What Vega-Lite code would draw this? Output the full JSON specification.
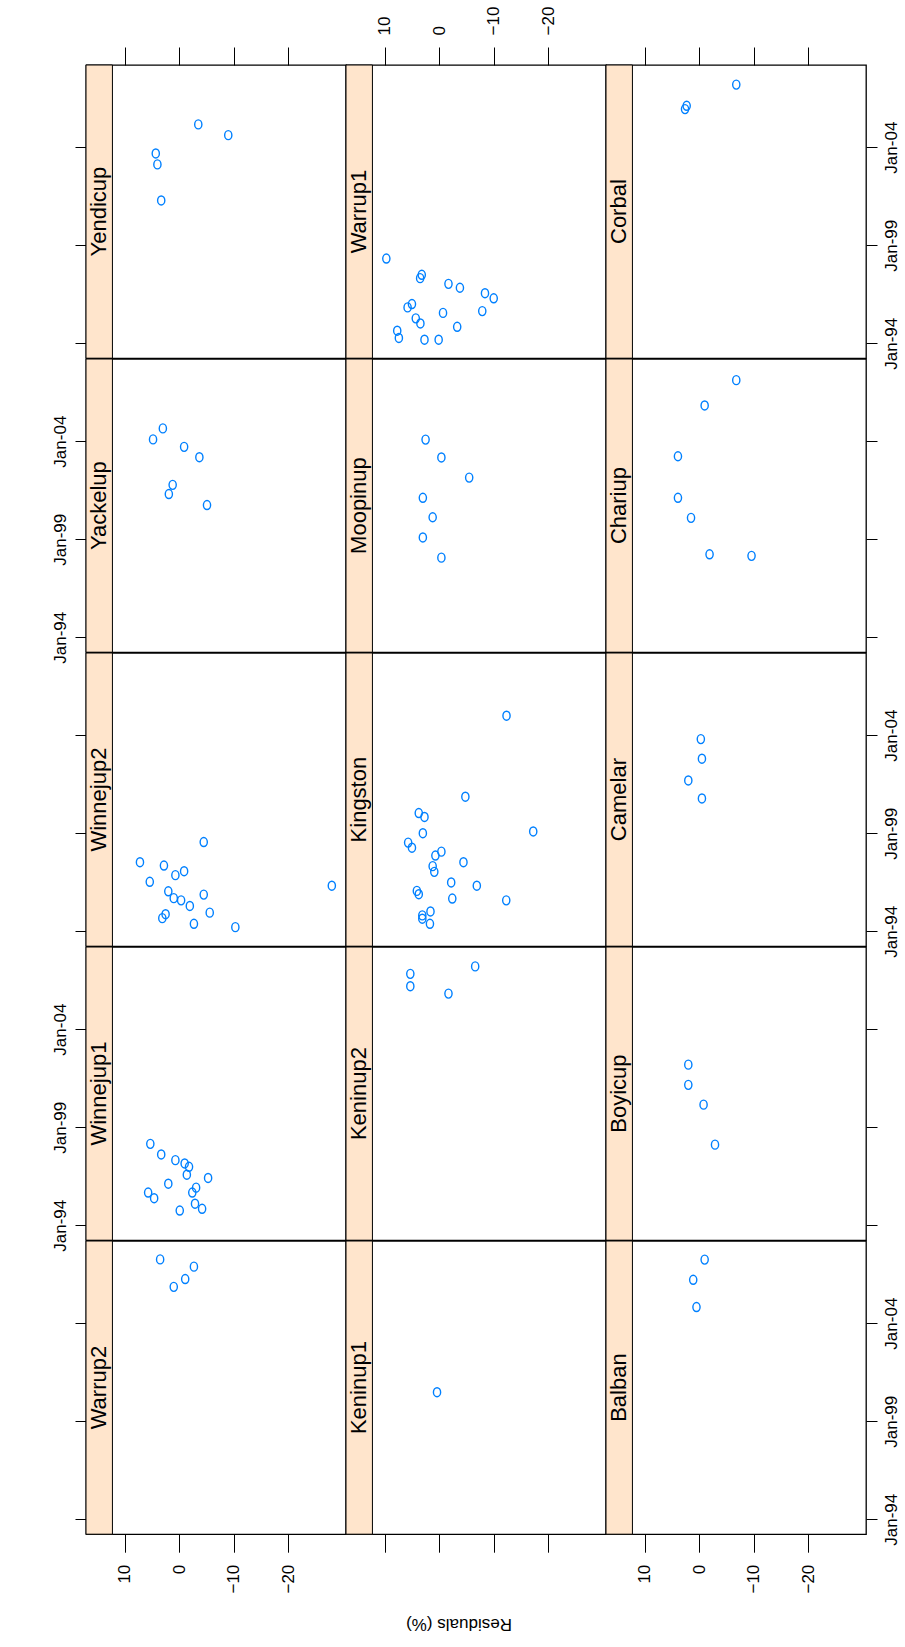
{
  "$schema": "https://vega.github.io/schema/vega-lite/v6.json",
  "background": "#ffffff",
  "padding": {"left": 50, "top": 5, "right": 3, "bottom": 5},
  "title": {"text": "Residuals (%)", "orient": "bottom", "angle": 180, "anchor": "middle", "font": "Liberation Sans", "fontSize": 17, "fontWeight": "normal", "color": "#000", "offset": 38, "dx": 16},
  "datasets": {
    "panels": [
      {"site": "Yendicup"}, {"site": "Warrup1"}, {"site": "Corbal"},
      {"site": "Yackelup"}, {"site": "Moopinup"}, {"site": "Chariup"},
      {"site": "Winnejup2"}, {"site": "Kingston"}, {"site": "Camelar"},
      {"site": "Winnejup1"}, {"site": "Keninup2"}, {"site": "Boyicup"},
      {"site": "Warrup2"}, {"site": "Keninup1"}, {"site": "Balban"}
    ],
    "points": [
      {"site": "Yendicup", "date": "2005-02-28", "resid": -3.5},
      {"site": "Yendicup", "date": "2004-08-12", "resid": -9.0},
      {"site": "Yendicup", "date": "2003-09-06", "resid": 4.3},
      {"site": "Yendicup", "date": "2003-02-14", "resid": 4.0},
      {"site": "Yendicup", "date": "2001-04-13", "resid": 3.3},
      {"site": "Yackelup", "date": "2004-08-26", "resid": 3.0},
      {"site": "Yackelup", "date": "2004-02-03", "resid": 4.8},
      {"site": "Yackelup", "date": "2003-09-17", "resid": -0.9},
      {"site": "Yackelup", "date": "2003-03-08", "resid": -3.7},
      {"site": "Yackelup", "date": "2001-10-09", "resid": 1.2},
      {"site": "Yackelup", "date": "2001-04-21", "resid": 1.9},
      {"site": "Yackelup", "date": "2000-09-28", "resid": -5.1},
      {"site": "Winnejup2", "date": "1998-07-21", "resid": -4.5},
      {"site": "Winnejup2", "date": "1997-07-10", "resid": 7.2},
      {"site": "Winnejup2", "date": "1997-05-09", "resid": 2.8},
      {"site": "Winnejup2", "date": "1997-01-23", "resid": -0.9},
      {"site": "Winnejup2", "date": "1996-11-11", "resid": 0.7},
      {"site": "Winnejup2", "date": "1996-07-10", "resid": 5.4},
      {"site": "Winnejup2", "date": "1996-04-28", "resid": -28.0},
      {"site": "Winnejup2", "date": "1996-01-16", "resid": 2.0},
      {"site": "Winnejup2", "date": "1995-11-15", "resid": -4.5},
      {"site": "Winnejup2", "date": "1995-09-10", "resid": 1.0},
      {"site": "Winnejup2", "date": "1995-07-31", "resid": -0.35},
      {"site": "Winnejup2", "date": "1995-04-17", "resid": -1.95},
      {"site": "Winnejup2", "date": "1994-12-14", "resid": -5.6},
      {"site": "Winnejup2", "date": "1994-11-15", "resid": 2.5},
      {"site": "Winnejup2", "date": "1994-09-02", "resid": 3.1},
      {"site": "Winnejup2", "date": "1994-05-20", "resid": -2.7},
      {"site": "Winnejup2", "date": "1994-03-19", "resid": -10.3},
      {"site": "Winnejup1", "date": "1998-02-25", "resid": 5.3},
      {"site": "Winnejup1", "date": "1997-08-12", "resid": 3.3},
      {"site": "Winnejup1", "date": "1997-04-28", "resid": 0.7},
      {"site": "Winnejup1", "date": "1997-02-25", "resid": -1.0},
      {"site": "Winnejup1", "date": "1996-12-25", "resid": -1.8},
      {"site": "Winnejup1", "date": "1996-07-31", "resid": -1.4},
      {"site": "Winnejup1", "date": "1996-05-31", "resid": -5.3},
      {"site": "Winnejup1", "date": "1996-02-14", "resid": 2.0},
      {"site": "Winnejup1", "date": "1995-12-03", "resid": -3.1},
      {"site": "Winnejup1", "date": "1995-09-02", "resid": 5.7},
      {"site": "Winnejup1", "date": "1995-09-02", "resid": -2.4},
      {"site": "Winnejup1", "date": "1995-05-20", "resid": 4.6},
      {"site": "Winnejup1", "date": "1995-02-07", "resid": -2.9},
      {"site": "Winnejup1", "date": "1994-11-04", "resid": -4.2},
      {"site": "Winnejup1", "date": "1994-10-02", "resid": -0.1},
      {"site": "Warrup2", "date": "2007-04-02", "resid": 3.5},
      {"site": "Warrup2", "date": "2006-11-18", "resid": -2.7},
      {"site": "Warrup2", "date": "2006-04-02", "resid": -1.1},
      {"site": "Warrup2", "date": "2005-11-07", "resid": 1.0},
      {"site": "Warrup1", "date": "1998-04-28", "resid": 9.7},
      {"site": "Warrup1", "date": "1997-06-29", "resid": 3.2},
      {"site": "Warrup1", "date": "1997-04-28", "resid": 3.5},
      {"site": "Warrup1", "date": "1997-01-12", "resid": -1.7},
      {"site": "Warrup1", "date": "1996-10-31", "resid": -3.8},
      {"site": "Warrup1", "date": "1996-07-21", "resid": -8.4},
      {"site": "Warrup1", "date": "1996-04-17", "resid": -10.0},
      {"site": "Warrup1", "date": "1996-01-01", "resid": 5.0},
      {"site": "Warrup1", "date": "1995-10-31", "resid": 5.8},
      {"site": "Warrup1", "date": "1995-08-23", "resid": -7.9},
      {"site": "Warrup1", "date": "1995-07-21", "resid": -0.7},
      {"site": "Warrup1", "date": "1995-04-10", "resid": 4.3},
      {"site": "Warrup1", "date": "1995-01-05", "resid": 3.45},
      {"site": "Warrup1", "date": "1994-11-04", "resid": -3.3},
      {"site": "Warrup1", "date": "1994-08-23", "resid": 7.7},
      {"site": "Warrup1", "date": "1994-04-10", "resid": 7.4},
      {"site": "Warrup1", "date": "1994-03-08", "resid": 2.7},
      {"site": "Warrup1", "date": "1994-03-08", "resid": 0.1},
      {"site": "Moopinup", "date": "2004-01-30", "resid": 2.5},
      {"site": "Moopinup", "date": "2003-03-04", "resid": -0.4},
      {"site": "Moopinup", "date": "2002-02-21", "resid": -5.5},
      {"site": "Moopinup", "date": "2001-02-10", "resid": 3.0},
      {"site": "Moopinup", "date": "2000-02-14", "resid": 1.2},
      {"site": "Moopinup", "date": "1999-02-03", "resid": 3.0},
      {"site": "Moopinup", "date": "1998-01-23", "resid": -0.4},
      {"site": "Kingston", "date": "2004-12-28", "resid": -12.35},
      {"site": "Kingston", "date": "2000-11-11", "resid": -4.8},
      {"site": "Kingston", "date": "2000-01-12", "resid": 3.75},
      {"site": "Kingston", "date": "1999-10-31", "resid": 2.7},
      {"site": "Kingston", "date": "1999-01-01", "resid": 3.0},
      {"site": "Kingston", "date": "1999-02-03", "resid": -17.25},
      {"site": "Kingston", "date": "1998-07-10", "resid": 5.7},
      {"site": "Kingston", "date": "1998-04-06", "resid": 5.0},
      {"site": "Kingston", "date": "1998-01-23", "resid": -0.4},
      {"site": "Kingston", "date": "1997-11-11", "resid": 0.7},
      {"site": "Kingston", "date": "1997-07-10", "resid": -4.45},
      {"site": "Kingston", "date": "1997-04-28", "resid": 1.2},
      {"site": "Kingston", "date": "1997-01-12", "resid": 0.9},
      {"site": "Kingston", "date": "1996-06-28", "resid": -2.2},
      {"site": "Kingston", "date": "1996-04-28", "resid": -6.9},
      {"site": "Kingston", "date": "1996-01-23", "resid": 4.1},
      {"site": "Kingston", "date": "1995-11-22", "resid": 3.75},
      {"site": "Kingston", "date": "1995-09-02", "resid": -2.4},
      {"site": "Kingston", "date": "1995-07-31", "resid": -12.3},
      {"site": "Kingston", "date": "1995-01-05", "resid": 1.6},
      {"site": "Kingston", "date": "1994-10-24", "resid": 3.1},
      {"site": "Kingston", "date": "1994-08-23", "resid": 3.1},
      {"site": "Kingston", "date": "1994-05-20", "resid": 1.7},
      {"site": "Keninup2", "date": "2007-03-15", "resid": -6.6},
      {"site": "Keninup2", "date": "2006-10-27", "resid": 5.3},
      {"site": "Keninup2", "date": "2006-03-11", "resid": 5.3},
      {"site": "Keninup2", "date": "2005-10-24", "resid": -1.7},
      {"site": "Keninup1", "date": "2000-06-24", "resid": 0.4},
      {"site": "Corbal", "date": "2007-03-11", "resid": -6.8},
      {"site": "Corbal", "date": "2006-02-10", "resid": 2.3},
      {"site": "Corbal", "date": "2005-12-10", "resid": 2.6},
      {"site": "Chariup", "date": "2007-02-10", "resid": -6.8},
      {"site": "Chariup", "date": "2005-10-27", "resid": -1.0},
      {"site": "Chariup", "date": "2003-03-26", "resid": 3.9},
      {"site": "Chariup", "date": "2001-02-10", "resid": 3.9},
      {"site": "Chariup", "date": "2000-02-03", "resid": 1.5},
      {"site": "Chariup", "date": "1998-03-26", "resid": -1.9},
      {"site": "Chariup", "date": "1998-02-25", "resid": -9.6},
      {"site": "Camelar", "date": "2003-10-20", "resid": -0.3},
      {"site": "Camelar", "date": "2002-10-20", "resid": -0.5},
      {"site": "Camelar", "date": "2001-09-10", "resid": 2.0},
      {"site": "Camelar", "date": "2000-10-09", "resid": -0.5},
      {"site": "Boyicup", "date": "2002-03-11", "resid": 2.0},
      {"site": "Boyicup", "date": "2001-02-28", "resid": 2.0},
      {"site": "Boyicup", "date": "2000-02-25", "resid": -0.8},
      {"site": "Boyicup", "date": "1998-02-10", "resid": -2.9},
      {"site": "Balban", "date": "2007-03-30", "resid": -1.0},
      {"site": "Balban", "date": "2006-03-19", "resid": 1.1},
      {"site": "Balban", "date": "2004-10-27", "resid": 0.5}
    ]
  },
  "columns": 3,
  "spacing": 0,
  "bounds": "flush",
  "concat": [
    {"width": 260, "height": 293.2, "layer": [
      {"data": {"name": "panels"}, "transform": [{"filter": "datum.site === 'Yendicup'"}], "mark": {"type": "rect", "fill": "#ffe5cc", "stroke": "#000", "strokeWidth": 1}, "encoding": {"x": {"datum": 17.1, "type": "quantitative", "scale": {"domain": [-30.6, 17.1], "reverse": true, "nice": false, "zero": false}}, "x2": {"datum": 12.25}}},
      {"data": {"name": "panels"}, "transform": [{"filter": "datum.site === 'Yendicup'"}], "mark": {"type": "text", "angle": 270, "font": "Liberation Sans", "fontSize": 22, "align": "center", "baseline": "middle", "color": "#000"}, "encoding": {"x": {"datum": 14.67, "type": "quantitative"}, "y": {"datum": {"year": 2000, "month": 9, "date": 18, "utc": true}, "type": "temporal", "scale": {"type": "utc", "domain": [{"year": 1993, "month": 3, "date": 29, "utc": true}, {"year": 2008, "month": 3, "date": 10, "utc": true}], "nice": false}}, "text": {"field": "site"}}},
      {"data": {"name": "points"}, "transform": [{"filter": "datum.site === 'Yendicup'"}], "mark": {"type": "point", "shape": "M-0.8,0A0.8,1,0,1,0,0.8,0A0.8,1,0,1,0,-0.8,0Z", "filled": false, "stroke": "#0080ff", "strokeWidth": 1.4, "size": 81, "opacity": 1}, "encoding": {
        "x": {"field": "resid", "type": "quantitative", "axis": {"orient": "top", "values": [10, 0, -10, -20], "labels": false, "labelAlign": "left", "labelBaseline": "middle"}},
        "y": {"field": "date", "type": "temporal", "axis": {"orient": "left", "values": [{"year": 1994, "month": 1, "date": 1, "utc": true}, {"year": 1999, "month": 1, "date": 1, "utc": true}, {"year": 2004, "month": 1, "date": 1, "utc": true}], "format": "%b-%y", "labels": false}}}}
    ]},
    {"width": 260, "height": 293.2, "layer": [
      {"data": {"name": "panels"}, "transform": [{"filter": "datum.site === 'Warrup1'"}], "mark": {"type": "rect", "fill": "#ffe5cc", "stroke": "#000", "strokeWidth": 1}, "encoding": {"x": {"datum": 17.1, "type": "quantitative", "scale": {"domain": [-30.6, 17.1], "reverse": true, "nice": false, "zero": false}}, "x2": {"datum": 12.25}}},
      {"data": {"name": "panels"}, "transform": [{"filter": "datum.site === 'Warrup1'"}], "mark": {"type": "text", "angle": 270, "font": "Liberation Sans", "fontSize": 22, "align": "center", "baseline": "middle", "color": "#000"}, "encoding": {"x": {"datum": 14.67, "type": "quantitative"}, "y": {"datum": {"year": 2000, "month": 9, "date": 18, "utc": true}, "type": "temporal", "scale": {"type": "utc", "domain": [{"year": 1993, "month": 3, "date": 29, "utc": true}, {"year": 2008, "month": 3, "date": 10, "utc": true}], "nice": false}, "axis": null}, "text": {"field": "site"}}},
      {"data": {"name": "points"}, "transform": [{"filter": "datum.site === 'Warrup1'"}], "mark": {"type": "point", "shape": "M-0.8,0A0.8,1,0,1,0,0.8,0A0.8,1,0,1,0,-0.8,0Z", "filled": false, "stroke": "#0080ff", "strokeWidth": 1.4, "size": 81, "opacity": 1}, "encoding": {
        "x": {"field": "resid", "type": "quantitative", "axis": {"orient": "top", "values": [10, 0, -10, -20], "labels": true, "labelAlign": "left", "labelBaseline": "middle"}},
        "y": {"field": "date", "type": "temporal", "axis": null}}}
    ]},
    {"width": 260, "height": 293.2, "layer": [
      {"data": {"name": "panels"}, "transform": [{"filter": "datum.site === 'Corbal'"}], "mark": {"type": "rect", "fill": "#ffe5cc", "stroke": "#000", "strokeWidth": 1}, "encoding": {"x": {"datum": 17.1, "type": "quantitative", "scale": {"domain": [-30.6, 17.1], "reverse": true, "nice": false, "zero": false}}, "x2": {"datum": 12.25}}},
      {"data": {"name": "panels"}, "transform": [{"filter": "datum.site === 'Corbal'"}], "mark": {"type": "text", "angle": 270, "font": "Liberation Sans", "fontSize": 22, "align": "center", "baseline": "middle", "color": "#000"}, "encoding": {"x": {"datum": 14.67, "type": "quantitative"}, "y": {"datum": {"year": 2000, "month": 9, "date": 18, "utc": true}, "type": "temporal", "scale": {"type": "utc", "domain": [{"year": 1993, "month": 3, "date": 29, "utc": true}, {"year": 2008, "month": 3, "date": 10, "utc": true}], "nice": false}}, "text": {"field": "site"}}},
      {"data": {"name": "points"}, "transform": [{"filter": "datum.site === 'Corbal'"}], "mark": {"type": "point", "shape": "M-0.8,0A0.8,1,0,1,0,0.8,0A0.8,1,0,1,0,-0.8,0Z", "filled": false, "stroke": "#0080ff", "strokeWidth": 1.4, "size": 81, "opacity": 1}, "encoding": {
        "x": {"field": "resid", "type": "quantitative", "axis": {"orient": "top", "values": [10, 0, -10, -20], "labels": false, "labelAlign": "left", "labelBaseline": "middle"}},
        "y": {"field": "date", "type": "temporal", "axis": {"orient": "right", "values": [{"year": 1994, "month": 1, "date": 1, "utc": true}, {"year": 1999, "month": 1, "date": 1, "utc": true}, {"year": 2004, "month": 1, "date": 1, "utc": true}], "format": "%b-%y", "labels": true, "labelAlign": "center", "labelBaseline": "top"}}}}
    ]},
    {"width": 260, "height": 293.2, "layer": [
      {"data": {"name": "panels"}, "transform": [{"filter": "datum.site === 'Yackelup'"}], "mark": {"type": "rect", "fill": "#ffe5cc", "stroke": "#000", "strokeWidth": 1}, "encoding": {"x": {"datum": 17.1, "type": "quantitative", "scale": {"domain": [-30.6, 17.1], "reverse": true, "nice": false, "zero": false}, "axis": null}, "x2": {"datum": 12.25}}},
      {"data": {"name": "panels"}, "transform": [{"filter": "datum.site === 'Yackelup'"}], "mark": {"type": "text", "angle": 270, "font": "Liberation Sans", "fontSize": 22, "align": "center", "baseline": "middle", "color": "#000"}, "encoding": {"x": {"datum": 14.67, "type": "quantitative", "axis": null}, "y": {"datum": {"year": 2000, "month": 9, "date": 18, "utc": true}, "type": "temporal", "scale": {"type": "utc", "domain": [{"year": 1993, "month": 3, "date": 29, "utc": true}, {"year": 2008, "month": 3, "date": 10, "utc": true}], "nice": false}}, "text": {"field": "site"}}},
      {"data": {"name": "points"}, "transform": [{"filter": "datum.site === 'Yackelup'"}], "mark": {"type": "point", "shape": "M-0.8,0A0.8,1,0,1,0,0.8,0A0.8,1,0,1,0,-0.8,0Z", "filled": false, "stroke": "#0080ff", "strokeWidth": 1.4, "size": 81, "opacity": 1}, "encoding": {
        "x": {"field": "resid", "type": "quantitative", "axis": null},
        "y": {"field": "date", "type": "temporal", "axis": {"orient": "left", "values": [{"year": 1994, "month": 1, "date": 1, "utc": true}, {"year": 1999, "month": 1, "date": 1, "utc": true}, {"year": 2004, "month": 1, "date": 1, "utc": true}], "format": "%b-%y", "labels": true}}}}
    ]},
    {"width": 260, "height": 293.2, "layer": [
      {"data": {"name": "panels"}, "transform": [{"filter": "datum.site === 'Moopinup'"}], "mark": {"type": "rect", "fill": "#ffe5cc", "stroke": "#000", "strokeWidth": 1}, "encoding": {"x": {"datum": 17.1, "type": "quantitative", "scale": {"domain": [-30.6, 17.1], "reverse": true, "nice": false, "zero": false}, "axis": null}, "x2": {"datum": 12.25}}},
      {"data": {"name": "panels"}, "transform": [{"filter": "datum.site === 'Moopinup'"}], "mark": {"type": "text", "angle": 270, "font": "Liberation Sans", "fontSize": 22, "align": "center", "baseline": "middle", "color": "#000"}, "encoding": {"x": {"datum": 14.67, "type": "quantitative", "axis": null}, "y": {"datum": {"year": 2000, "month": 9, "date": 18, "utc": true}, "type": "temporal", "scale": {"type": "utc", "domain": [{"year": 1993, "month": 3, "date": 29, "utc": true}, {"year": 2008, "month": 3, "date": 10, "utc": true}], "nice": false}, "axis": null}, "text": {"field": "site"}}},
      {"data": {"name": "points"}, "transform": [{"filter": "datum.site === 'Moopinup'"}], "mark": {"type": "point", "shape": "M-0.8,0A0.8,1,0,1,0,0.8,0A0.8,1,0,1,0,-0.8,0Z", "filled": false, "stroke": "#0080ff", "strokeWidth": 1.4, "size": 81, "opacity": 1}, "encoding": {
        "x": {"field": "resid", "type": "quantitative", "axis": null},
        "y": {"field": "date", "type": "temporal", "axis": null}}}
    ]},
    {"width": 260, "height": 293.2, "layer": [
      {"data": {"name": "panels"}, "transform": [{"filter": "datum.site === 'Chariup'"}], "mark": {"type": "rect", "fill": "#ffe5cc", "stroke": "#000", "strokeWidth": 1}, "encoding": {"x": {"datum": 17.1, "type": "quantitative", "scale": {"domain": [-30.6, 17.1], "reverse": true, "nice": false, "zero": false}, "axis": null}, "x2": {"datum": 12.25}}},
      {"data": {"name": "panels"}, "transform": [{"filter": "datum.site === 'Chariup'"}], "mark": {"type": "text", "angle": 270, "font": "Liberation Sans", "fontSize": 22, "align": "center", "baseline": "middle", "color": "#000"}, "encoding": {"x": {"datum": 14.67, "type": "quantitative", "axis": null}, "y": {"datum": {"year": 2000, "month": 9, "date": 18, "utc": true}, "type": "temporal", "scale": {"type": "utc", "domain": [{"year": 1993, "month": 3, "date": 29, "utc": true}, {"year": 2008, "month": 3, "date": 10, "utc": true}], "nice": false}}, "text": {"field": "site"}}},
      {"data": {"name": "points"}, "transform": [{"filter": "datum.site === 'Chariup'"}], "mark": {"type": "point", "shape": "M-0.8,0A0.8,1,0,1,0,0.8,0A0.8,1,0,1,0,-0.8,0Z", "filled": false, "stroke": "#0080ff", "strokeWidth": 1.4, "size": 81, "opacity": 1}, "encoding": {
        "x": {"field": "resid", "type": "quantitative", "axis": null},
        "y": {"field": "date", "type": "temporal", "axis": {"orient": "right", "values": [{"year": 1994, "month": 1, "date": 1, "utc": true}, {"year": 1999, "month": 1, "date": 1, "utc": true}, {"year": 2004, "month": 1, "date": 1, "utc": true}], "format": "%b-%y", "labels": false, "labelAlign": "center", "labelBaseline": "top"}}}}
    ]},
    {"width": 260, "height": 293.2, "layer": [
      {"data": {"name": "panels"}, "transform": [{"filter": "datum.site === 'Winnejup2'"}], "mark": {"type": "rect", "fill": "#ffe5cc", "stroke": "#000", "strokeWidth": 1}, "encoding": {"x": {"datum": 17.1, "type": "quantitative", "scale": {"domain": [-30.6, 17.1], "reverse": true, "nice": false, "zero": false}, "axis": null}, "x2": {"datum": 12.25}}},
      {"data": {"name": "panels"}, "transform": [{"filter": "datum.site === 'Winnejup2'"}], "mark": {"type": "text", "angle": 270, "font": "Liberation Sans", "fontSize": 22, "align": "center", "baseline": "middle", "color": "#000"}, "encoding": {"x": {"datum": 14.67, "type": "quantitative", "axis": null}, "y": {"datum": {"year": 2000, "month": 9, "date": 18, "utc": true}, "type": "temporal", "scale": {"type": "utc", "domain": [{"year": 1993, "month": 3, "date": 29, "utc": true}, {"year": 2008, "month": 3, "date": 10, "utc": true}], "nice": false}}, "text": {"field": "site"}}},
      {"data": {"name": "points"}, "transform": [{"filter": "datum.site === 'Winnejup2'"}], "mark": {"type": "point", "shape": "M-0.8,0A0.8,1,0,1,0,0.8,0A0.8,1,0,1,0,-0.8,0Z", "filled": false, "stroke": "#0080ff", "strokeWidth": 1.4, "size": 81, "opacity": 1}, "encoding": {
        "x": {"field": "resid", "type": "quantitative", "axis": null},
        "y": {"field": "date", "type": "temporal", "axis": {"orient": "left", "values": [{"year": 1994, "month": 1, "date": 1, "utc": true}, {"year": 1999, "month": 1, "date": 1, "utc": true}, {"year": 2004, "month": 1, "date": 1, "utc": true}], "format": "%b-%y", "labels": false}}}}
    ]},
    {"width": 260, "height": 293.2, "layer": [
      {"data": {"name": "panels"}, "transform": [{"filter": "datum.site === 'Kingston'"}], "mark": {"type": "rect", "fill": "#ffe5cc", "stroke": "#000", "strokeWidth": 1}, "encoding": {"x": {"datum": 17.1, "type": "quantitative", "scale": {"domain": [-30.6, 17.1], "reverse": true, "nice": false, "zero": false}, "axis": null}, "x2": {"datum": 12.25}}},
      {"data": {"name": "panels"}, "transform": [{"filter": "datum.site === 'Kingston'"}], "mark": {"type": "text", "angle": 270, "font": "Liberation Sans", "fontSize": 22, "align": "center", "baseline": "middle", "color": "#000"}, "encoding": {"x": {"datum": 14.67, "type": "quantitative", "axis": null}, "y": {"datum": {"year": 2000, "month": 9, "date": 18, "utc": true}, "type": "temporal", "scale": {"type": "utc", "domain": [{"year": 1993, "month": 3, "date": 29, "utc": true}, {"year": 2008, "month": 3, "date": 10, "utc": true}], "nice": false}, "axis": null}, "text": {"field": "site"}}},
      {"data": {"name": "points"}, "transform": [{"filter": "datum.site === 'Kingston'"}], "mark": {"type": "point", "shape": "M-0.8,0A0.8,1,0,1,0,0.8,0A0.8,1,0,1,0,-0.8,0Z", "filled": false, "stroke": "#0080ff", "strokeWidth": 1.4, "size": 81, "opacity": 1}, "encoding": {
        "x": {"field": "resid", "type": "quantitative", "axis": null},
        "y": {"field": "date", "type": "temporal", "axis": null}}}
    ]},
    {"width": 260, "height": 293.2, "layer": [
      {"data": {"name": "panels"}, "transform": [{"filter": "datum.site === 'Camelar'"}], "mark": {"type": "rect", "fill": "#ffe5cc", "stroke": "#000", "strokeWidth": 1}, "encoding": {"x": {"datum": 17.1, "type": "quantitative", "scale": {"domain": [-30.6, 17.1], "reverse": true, "nice": false, "zero": false}, "axis": null}, "x2": {"datum": 12.25}}},
      {"data": {"name": "panels"}, "transform": [{"filter": "datum.site === 'Camelar'"}], "mark": {"type": "text", "angle": 270, "font": "Liberation Sans", "fontSize": 22, "align": "center", "baseline": "middle", "color": "#000"}, "encoding": {"x": {"datum": 14.67, "type": "quantitative", "axis": null}, "y": {"datum": {"year": 2000, "month": 9, "date": 18, "utc": true}, "type": "temporal", "scale": {"type": "utc", "domain": [{"year": 1993, "month": 3, "date": 29, "utc": true}, {"year": 2008, "month": 3, "date": 10, "utc": true}], "nice": false}}, "text": {"field": "site"}}},
      {"data": {"name": "points"}, "transform": [{"filter": "datum.site === 'Camelar'"}], "mark": {"type": "point", "shape": "M-0.8,0A0.8,1,0,1,0,0.8,0A0.8,1,0,1,0,-0.8,0Z", "filled": false, "stroke": "#0080ff", "strokeWidth": 1.4, "size": 81, "opacity": 1}, "encoding": {
        "x": {"field": "resid", "type": "quantitative", "axis": null},
        "y": {"field": "date", "type": "temporal", "axis": {"orient": "right", "values": [{"year": 1994, "month": 1, "date": 1, "utc": true}, {"year": 1999, "month": 1, "date": 1, "utc": true}, {"year": 2004, "month": 1, "date": 1, "utc": true}], "format": "%b-%y", "labels": true, "labelAlign": "center", "labelBaseline": "top"}}}}
    ]},
    {"width": 260, "height": 293.2, "layer": [
      {"data": {"name": "panels"}, "transform": [{"filter": "datum.site === 'Winnejup1'"}], "mark": {"type": "rect", "fill": "#ffe5cc", "stroke": "#000", "strokeWidth": 1}, "encoding": {"x": {"datum": 17.1, "type": "quantitative", "scale": {"domain": [-30.6, 17.1], "reverse": true, "nice": false, "zero": false}, "axis": null}, "x2": {"datum": 12.25}}},
      {"data": {"name": "panels"}, "transform": [{"filter": "datum.site === 'Winnejup1'"}], "mark": {"type": "text", "angle": 270, "font": "Liberation Sans", "fontSize": 22, "align": "center", "baseline": "middle", "color": "#000"}, "encoding": {"x": {"datum": 14.67, "type": "quantitative", "axis": null}, "y": {"datum": {"year": 2000, "month": 9, "date": 18, "utc": true}, "type": "temporal", "scale": {"type": "utc", "domain": [{"year": 1993, "month": 3, "date": 29, "utc": true}, {"year": 2008, "month": 3, "date": 10, "utc": true}], "nice": false}}, "text": {"field": "site"}}},
      {"data": {"name": "points"}, "transform": [{"filter": "datum.site === 'Winnejup1'"}], "mark": {"type": "point", "shape": "M-0.8,0A0.8,1,0,1,0,0.8,0A0.8,1,0,1,0,-0.8,0Z", "filled": false, "stroke": "#0080ff", "strokeWidth": 1.4, "size": 81, "opacity": 1}, "encoding": {
        "x": {"field": "resid", "type": "quantitative", "axis": null},
        "y": {"field": "date", "type": "temporal", "axis": {"orient": "left", "values": [{"year": 1994, "month": 1, "date": 1, "utc": true}, {"year": 1999, "month": 1, "date": 1, "utc": true}, {"year": 2004, "month": 1, "date": 1, "utc": true}], "format": "%b-%y", "labels": true}}}}
    ]},
    {"width": 260, "height": 293.2, "layer": [
      {"data": {"name": "panels"}, "transform": [{"filter": "datum.site === 'Keninup2'"}], "mark": {"type": "rect", "fill": "#ffe5cc", "stroke": "#000", "strokeWidth": 1}, "encoding": {"x": {"datum": 17.1, "type": "quantitative", "scale": {"domain": [-30.6, 17.1], "reverse": true, "nice": false, "zero": false}, "axis": null}, "x2": {"datum": 12.25}}},
      {"data": {"name": "panels"}, "transform": [{"filter": "datum.site === 'Keninup2'"}], "mark": {"type": "text", "angle": 270, "font": "Liberation Sans", "fontSize": 22, "align": "center", "baseline": "middle", "color": "#000"}, "encoding": {"x": {"datum": 14.67, "type": "quantitative", "axis": null}, "y": {"datum": {"year": 2000, "month": 9, "date": 18, "utc": true}, "type": "temporal", "scale": {"type": "utc", "domain": [{"year": 1993, "month": 3, "date": 29, "utc": true}, {"year": 2008, "month": 3, "date": 10, "utc": true}], "nice": false}, "axis": null}, "text": {"field": "site"}}},
      {"data": {"name": "points"}, "transform": [{"filter": "datum.site === 'Keninup2'"}], "mark": {"type": "point", "shape": "M-0.8,0A0.8,1,0,1,0,0.8,0A0.8,1,0,1,0,-0.8,0Z", "filled": false, "stroke": "#0080ff", "strokeWidth": 1.4, "size": 81, "opacity": 1}, "encoding": {
        "x": {"field": "resid", "type": "quantitative", "axis": null},
        "y": {"field": "date", "type": "temporal", "axis": null}}}
    ]},
    {"width": 260, "height": 293.2, "layer": [
      {"data": {"name": "panels"}, "transform": [{"filter": "datum.site === 'Boyicup'"}], "mark": {"type": "rect", "fill": "#ffe5cc", "stroke": "#000", "strokeWidth": 1}, "encoding": {"x": {"datum": 17.1, "type": "quantitative", "scale": {"domain": [-30.6, 17.1], "reverse": true, "nice": false, "zero": false}, "axis": null}, "x2": {"datum": 12.25}}},
      {"data": {"name": "panels"}, "transform": [{"filter": "datum.site === 'Boyicup'"}], "mark": {"type": "text", "angle": 270, "font": "Liberation Sans", "fontSize": 22, "align": "center", "baseline": "middle", "color": "#000"}, "encoding": {"x": {"datum": 14.67, "type": "quantitative", "axis": null}, "y": {"datum": {"year": 2000, "month": 9, "date": 18, "utc": true}, "type": "temporal", "scale": {"type": "utc", "domain": [{"year": 1993, "month": 3, "date": 29, "utc": true}, {"year": 2008, "month": 3, "date": 10, "utc": true}], "nice": false}}, "text": {"field": "site"}}},
      {"data": {"name": "points"}, "transform": [{"filter": "datum.site === 'Boyicup'"}], "mark": {"type": "point", "shape": "M-0.8,0A0.8,1,0,1,0,0.8,0A0.8,1,0,1,0,-0.8,0Z", "filled": false, "stroke": "#0080ff", "strokeWidth": 1.4, "size": 81, "opacity": 1}, "encoding": {
        "x": {"field": "resid", "type": "quantitative", "axis": null},
        "y": {"field": "date", "type": "temporal", "axis": {"orient": "right", "values": [{"year": 1994, "month": 1, "date": 1, "utc": true}, {"year": 1999, "month": 1, "date": 1, "utc": true}, {"year": 2004, "month": 1, "date": 1, "utc": true}], "format": "%b-%y", "labels": false, "labelAlign": "center", "labelBaseline": "top"}}}}
    ]},
    {"width": 260, "height": 293.2, "layer": [
      {"data": {"name": "panels"}, "transform": [{"filter": "datum.site === 'Warrup2'"}], "mark": {"type": "rect", "fill": "#ffe5cc", "stroke": "#000", "strokeWidth": 1}, "encoding": {"x": {"datum": 17.1, "type": "quantitative", "scale": {"domain": [-30.6, 17.1], "reverse": true, "nice": false, "zero": false}}, "x2": {"datum": 12.25}}},
      {"data": {"name": "panels"}, "transform": [{"filter": "datum.site === 'Warrup2'"}], "mark": {"type": "text", "angle": 270, "font": "Liberation Sans", "fontSize": 22, "align": "center", "baseline": "middle", "color": "#000"}, "encoding": {"x": {"datum": 14.67, "type": "quantitative"}, "y": {"datum": {"year": 2000, "month": 9, "date": 18, "utc": true}, "type": "temporal", "scale": {"type": "utc", "domain": [{"year": 1993, "month": 3, "date": 29, "utc": true}, {"year": 2008, "month": 3, "date": 10, "utc": true}], "nice": false}}, "text": {"field": "site"}}},
      {"data": {"name": "points"}, "transform": [{"filter": "datum.site === 'Warrup2'"}], "mark": {"type": "point", "shape": "M-0.8,0A0.8,1,0,1,0,0.8,0A0.8,1,0,1,0,-0.8,0Z", "filled": false, "stroke": "#0080ff", "strokeWidth": 1.4, "size": 81, "opacity": 1}, "encoding": {
        "x": {"field": "resid", "type": "quantitative", "axis": {"orient": "bottom", "values": [10, 0, -10, -20], "labels": true}},
        "y": {"field": "date", "type": "temporal", "axis": {"orient": "left", "values": [{"year": 1994, "month": 1, "date": 1, "utc": true}, {"year": 1999, "month": 1, "date": 1, "utc": true}, {"year": 2004, "month": 1, "date": 1, "utc": true}], "format": "%b-%y", "labels": false}}}}
    ]},
    {"width": 260, "height": 293.2, "layer": [
      {"data": {"name": "panels"}, "transform": [{"filter": "datum.site === 'Keninup1'"}], "mark": {"type": "rect", "fill": "#ffe5cc", "stroke": "#000", "strokeWidth": 1}, "encoding": {"x": {"datum": 17.1, "type": "quantitative", "scale": {"domain": [-30.6, 17.1], "reverse": true, "nice": false, "zero": false}}, "x2": {"datum": 12.25}}},
      {"data": {"name": "panels"}, "transform": [{"filter": "datum.site === 'Keninup1'"}], "mark": {"type": "text", "angle": 270, "font": "Liberation Sans", "fontSize": 22, "align": "center", "baseline": "middle", "color": "#000"}, "encoding": {"x": {"datum": 14.67, "type": "quantitative"}, "y": {"datum": {"year": 2000, "month": 9, "date": 18, "utc": true}, "type": "temporal", "scale": {"type": "utc", "domain": [{"year": 1993, "month": 3, "date": 29, "utc": true}, {"year": 2008, "month": 3, "date": 10, "utc": true}], "nice": false}, "axis": null}, "text": {"field": "site"}}},
      {"data": {"name": "points"}, "transform": [{"filter": "datum.site === 'Keninup1'"}], "mark": {"type": "point", "shape": "M-0.8,0A0.8,1,0,1,0,0.8,0A0.8,1,0,1,0,-0.8,0Z", "filled": false, "stroke": "#0080ff", "strokeWidth": 1.4, "size": 81, "opacity": 1}, "encoding": {
        "x": {"field": "resid", "type": "quantitative", "axis": {"orient": "bottom", "values": [10, 0, -10, -20], "labels": false}},
        "y": {"field": "date", "type": "temporal", "axis": null}}}
    ]},
    {"width": 260, "height": 293.2, "layer": [
      {"data": {"name": "panels"}, "transform": [{"filter": "datum.site === 'Balban'"}], "mark": {"type": "rect", "fill": "#ffe5cc", "stroke": "#000", "strokeWidth": 1}, "encoding": {"x": {"datum": 17.1, "type": "quantitative", "scale": {"domain": [-30.6, 17.1], "reverse": true, "nice": false, "zero": false}}, "x2": {"datum": 12.25}}},
      {"data": {"name": "panels"}, "transform": [{"filter": "datum.site === 'Balban'"}], "mark": {"type": "text", "angle": 270, "font": "Liberation Sans", "fontSize": 22, "align": "center", "baseline": "middle", "color": "#000"}, "encoding": {"x": {"datum": 14.67, "type": "quantitative"}, "y": {"datum": {"year": 2000, "month": 9, "date": 18, "utc": true}, "type": "temporal", "scale": {"type": "utc", "domain": [{"year": 1993, "month": 3, "date": 29, "utc": true}, {"year": 2008, "month": 3, "date": 10, "utc": true}], "nice": false}}, "text": {"field": "site"}}},
      {"data": {"name": "points"}, "transform": [{"filter": "datum.site === 'Balban'"}], "mark": {"type": "point", "shape": "M-0.8,0A0.8,1,0,1,0,0.8,0A0.8,1,0,1,0,-0.8,0Z", "filled": false, "stroke": "#0080ff", "strokeWidth": 1.4, "size": 81, "opacity": 1}, "encoding": {
        "x": {"field": "resid", "type": "quantitative", "axis": {"orient": "bottom", "values": [10, 0, -10, -20], "labels": true}},
        "y": {"field": "date", "type": "temporal", "axis": {"orient": "right", "values": [{"year": 1994, "month": 1, "date": 1, "utc": true}, {"year": 1999, "month": 1, "date": 1, "utc": true}, {"year": 2004, "month": 1, "date": 1, "utc": true}], "format": "%b-%y", "labels": true, "labelAlign": "center", "labelBaseline": "top"}}}}
    ]}
  ],
  "config": {
    "view": {"stroke": "#000", "strokeWidth": 1.3},
    "axis": {"grid": false, "domain": false, "ticks": true, "tickColor": "#000", "tickWidth": 1, "labelFont": "Liberation Sans", "labelFontSize": 17, "labelColor": "#000", "labelAngle": 270, "title": null, "labelOverlap": false, "labelBound": false, "labelFlush": false},
    "axisX": {"tickSize": 18, "labelPadding": 12},
    "axisY": {"tickSize": 11, "labelPadding": 6}
  }
}
